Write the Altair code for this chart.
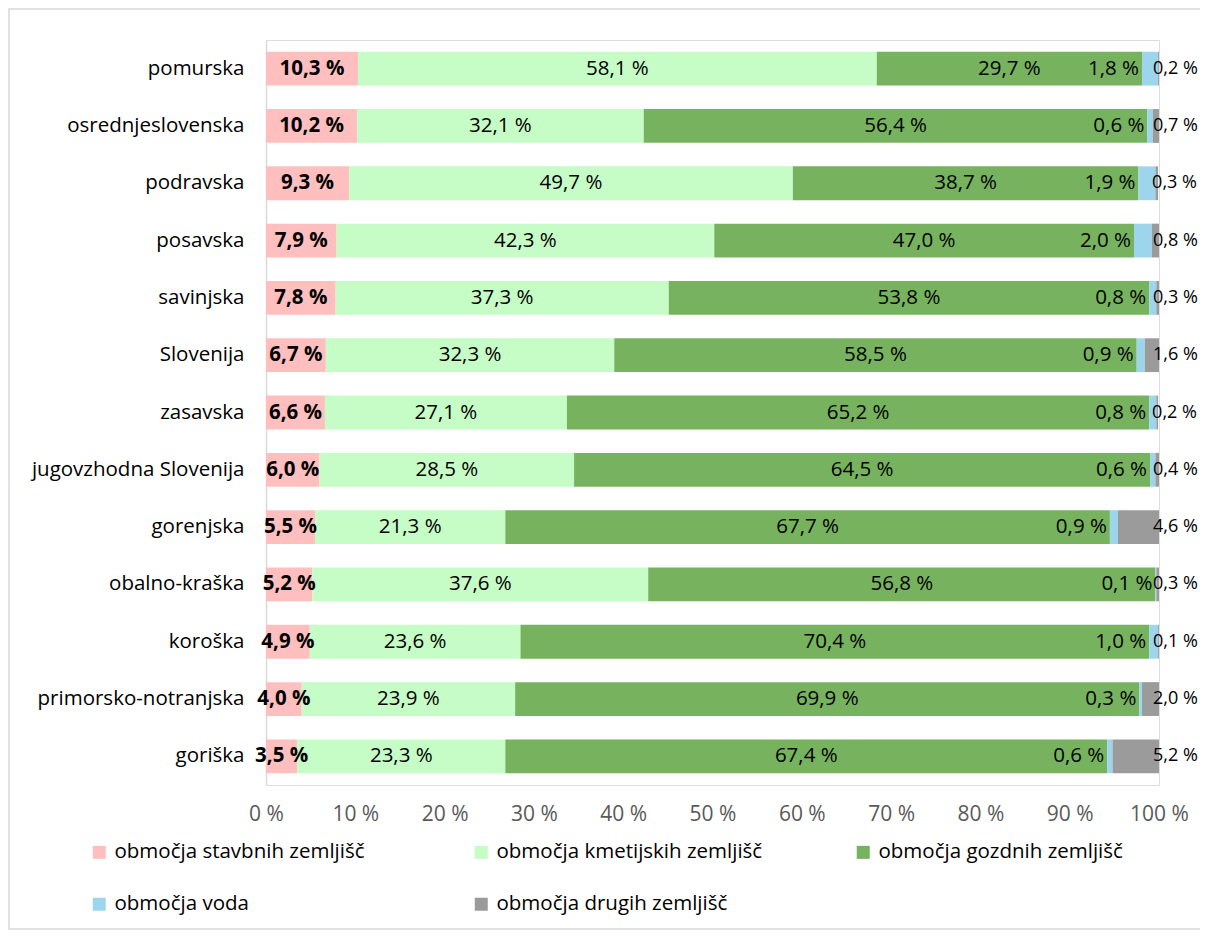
import altair as alt
import pandas as pd

regions = ["pomurska", "osrednjeslovenska", "podravska", "posavska", "savinjska",
           "Slovenija", "zasavska", "jugovzhodna Slovenija", "gorenjska",
           "obalno-kraška", "koroška", "primorsko-notranjska", "goriška"]
categories = ["območja stavbnih zemljišč", "območja kmetijskih zemljišč",
              "območja gozdnih zemljišč", "območja voda", "območja drugih zemljišč"]
colors = ["#FFBFBF", "#C6FCC6", "#77B35F", "#9DD6EC", "#9B9B9B"]

stavbna = [10.3, 10.2, 9.3, 7.9, 7.8, 6.7, 6.6, 6.0, 5.5, 5.2, 4.9, 4.0, 3.5]
kmetijska = [58.1, 32.1, 49.7, 42.3, 37.3, 32.3, 27.1, 28.5, 21.3, 37.6, 23.6, 23.9, 23.3]
gozdna = [29.7, 56.4, 38.7, 47.0, 53.8, 58.5, 65.2, 64.5, 67.7, 56.8, 70.4, 69.9, 67.4]
voda = [1.8, 0.6, 1.9, 2.0, 0.8, 0.9, 0.8, 0.6, 0.9, 0.1, 1.0, 0.3, 0.6]
drugo = [0.2, 0.7, 0.3, 0.8, 0.3, 1.6, 0.2, 0.4, 4.6, 0.3, 0.1, 2.0, 5.2]
tick_values = [0, 10, 20, 30, 40, 50, 60, 70, 80, 90, 100]

series = [stavbna, kmetijska, gozdna, voda, drugo]
rows = []
for i, r in enumerate(regions):
    start = 0.0
    for k, cat in enumerate(categories):
        v = series[k][i]
        rows.append({"region": r, "cat": cat, "k": k, "val": v,
                     "start": start, "end": start + v, "mid": start + v / 2,
                     "label": f"{v:.1f} %".replace(".", ",")})
        start += v
df = pd.DataFrame(rows)

FONT = "Open Sans"
FS = 20.5
W, H = 893, 745
PAD = {"left": 258, "top": 32, "right": 41, "bottom": 145}

base = alt.Chart(df)
yenc = alt.Y("region:N", sort=regions, title=None,
             scale=alt.Scale(paddingInner=0.41, paddingOuter=0.205),
             axis=alt.Axis(domainColor="#D9D9D9", domainWidth=1.5, ticks=False,
                           labelFontSize=FS, labelColor="#000000", labelPadding=22,
                           labelFont=FONT, labelLimit=300))
xscale = alt.Scale(domain=[0, 100], clamp=True, nice=False)

bars = base.mark_bar().encode(
    x=alt.X("start:Q", scale=xscale, title=None,
            axis=alt.Axis(values=tick_values, labelExpr="datum.value + ' %'",
                          grid=False, ticks=False, domain=False, labelFontSize=21,
                          labelFlush=False, labelOverlap=False,
                          labelColor="#595959", labelPadding=18, labelFont=FONT)),
    x2="end:Q",
    y=yenc,
    color=alt.Color("cat:N", scale=alt.Scale(domain=categories, range=colors),
                    legend=alt.Legend(title=None, orient="none", legendX=-177, legendY=802,
                                      columns=3, direction="horizontal", gridAlign="all",
                                      columnPadding=90, rowPadding=31,
                                      symbolType="square", symbolSize=169,
                                      symbolStrokeWidth=0, labelFontSize=FS,
                                      labelFont=FONT, labelColor="#000000",
                                      labelOffset=5, labelLimit=400)),
)

txt_st = base.mark_text(fontSize=FS, font=FONT, fontWeight="bold", color="#000000").encode(
    x="mid:Q", y=alt.Y("region:N", sort=regions), text="label:N"
).transform_filter(alt.datum.k == 0)

txt_mid = base.mark_text(fontSize=FS, font=FONT, color="#000000").encode(
    x="mid:Q", y=alt.Y("region:N", sort=regions), text="label:N"
).transform_filter((alt.datum.k == 1) | (alt.datum.k == 2))

txt_voda = base.mark_text(fontSize=FS, font=FONT, color="#000000", align="right", dx=-3).encode(
    x="start:Q", y=alt.Y("region:N", sort=regions), text="label:N"
).transform_filter(alt.datum.k == 3)

txt_drugo = base.mark_text(fontSize=18, font=FONT, color="#000000", align="left", dx=-6).encode(
    x="end:Q", y=alt.Y("region:N", sort=regions), text="label:N"
).transform_filter(alt.datum.k == 4)

border = alt.Chart(pd.DataFrame({"a": [0]})).mark_rect(
    fill=None, stroke="#D9D9D9", strokeWidth=1.5
).encode(x=alt.value(-257), x2=alt.value(W + PAD["right"] + 5),
         y=alt.value(-31), y2=alt.value(H + PAD["bottom"] - 1))

chart = alt.layer(border, bars, txt_st, txt_mid, txt_voda, txt_drugo).properties(
    width=W, height=H,
    autosize=alt.AutoSizeParams(type="none"),
    padding=PAD,
).configure_view(stroke=None).configure(background="#FFFFFF")

chart.save("out.html", embed_options={"renderer": "svg", "actions": False})
